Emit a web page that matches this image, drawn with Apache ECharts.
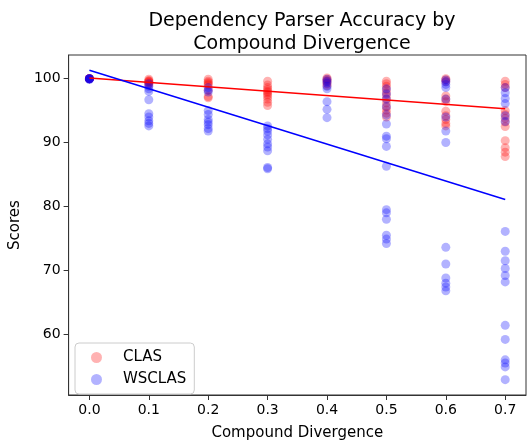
<!DOCTYPE html>
<html>
<head>
<meta charset="utf-8">
<script src="https://cdn.jsdelivr.net/npm/echarts@6/dist/echarts.min.js"></script>
<style>
  * { margin: 0; padding: 0; }
  #chart { width: 531px; height: 446px; }
</style>
</head>
<body>
<div id="chart"></div>
<script>
// compound divergence levels
const divergence = [0.0, 0.1, 0.2, 0.3, 0.4, 0.5, 0.6, 0.7];
const xTicks = [0.0, 0.1, 0.2, 0.3, 0.4, 0.5, 0.6, 0.7];
const yTicks = [60, 70, 80, 90, 100];

// scores per divergence level
const clasScores = [
  [100, 100, 100, 100, 100, 100],
  [99.9, 99.7, 99.6, 99.5, 99.4, 99.2, 99.0],
  [99.9, 99.6, 99.4, 99.2, 99.0, 98.2, 97.2, 97.0],
  [99.6, 99.0, 98.6, 98.3, 98.0, 97.8, 97.5, 97.2, 96.8, 96.3, 95.8],
  [100.1, 99.9, 99.7, 99.5, 99.2, 98.9],
  [99.6, 99.2, 98.8, 98.3, 97.8, 97.3, 96.8, 96.2, 95.6, 95.1, 94.6, 94.0],
  [100.0, 99.8, 99.5, 97.3, 96.8, 96.4, 94.9, 94.2, 93.6, 93.0, 92.6],
  [99.6, 99.1, 98.6, 95.0, 94.4, 93.8, 93.2, 92.5, 90.3, 89.2, 88.5, 87.8]
];
const wsclasScores = [
  [100, 100, 100, 100, 99.9, 99.9],
  [99.2, 98.8, 98.4, 98.0, 96.7, 94.5, 94.0, 93.4, 93.0, 92.6],
  [98.6, 98.2, 97.9, 95.0, 94.4, 93.6, 93.2, 92.8, 92.2, 91.8],
  [92.6, 92.2, 91.8, 91.2, 90.5, 89.8, 89.3, 88.7, 86.1, 85.9],
  [99.9, 99.6, 99.3, 98.8, 98.4, 96.4, 95.2, 93.9],
  [98.4, 97.6, 96.8, 95.6, 94.3, 92.9, 91.0, 90.6, 89.4, 86.3, 79.5, 79.0, 78.0, 75.5, 74.9, 74.2],
  [99.8, 99.5, 99.1, 98.6, 96.8, 94.0, 91.8, 90.0, 73.6, 71.0, 68.8, 68.0, 67.4, 66.8],
  [98.6, 97.8, 96.9, 96.1, 94.2, 93.3, 76.1, 73.0, 71.5, 70.3, 69.2, 68.2, 61.4, 59.2, 56.0, 55.5, 54.9, 52.9]
];

// fitted trend lines (ends)
const fitX = [0.0, 0.7];
const clasFit = [100.1, 95.3];
const wsclasFit = [101.3, 81.1];

const toPoints = (scores) =>
  scores.flatMap((col, i) => col.map((v) => [divergence[i], v]));
const toLine = (ys) => fitX.map((x, i) => [x, ys[i]]);

const font = "DejaVu Sans";
const chart = echarts.init(document.getElementById("chart"));
chart.setOption({
  animation: false,
  textStyle: { fontFamily: font },
  title: {
    text: "Dependency Parser Accuracy by\nCompound Divergence",
    left: 297,
    top: 5,
    textAlign: "center",
    textStyle: { fontFamily: font, fontSize: 19, fontWeight: "normal", color: "#000", lineHeight: 23 }
  },
  grid: {
    left: 67, right: 5, top: 55, bottom: 45,
    show: true, borderColor: "#333", borderWidth: 1
  },
  legend: {
    data: ["CLAS", "WSCLAS"],
    orient: "vertical",
    left: 75, top: 343,
    padding: [7, 8, 7, 16],
    itemGap: 7,
    itemWidth: 11, itemHeight: 11,
    borderColor: "#ccc", borderWidth: 1, borderRadius: 4,
    textStyle: { fontFamily: font, fontSize: 15, color: "#000", padding: [0, 0, 0, 16] }
  },
  xAxis: {
    type: "value",
    min: -0.035, max: 0.735,
    name: "Compound Divergence",
    nameLocation: "middle",
    nameGap: 31,
    nameTextStyle: { fontFamily: font, fontSize: 15, color: "#000" },
    axisLine: { onZero: false, lineStyle: { color: "#333" } },
    axisTick: { show: true, length: 5, customValues: xTicks, lineStyle: { color: "#333" } },
    axisLabel: { customValues: xTicks, formatter: (v) => v.toFixed(1), fontSize: 14, color: "#000", margin: 8 },
    splitLine: { show: false }
  },
  yAxis: {
    type: "value",
    min: 50.5, max: 103.7,
    name: "Scores",
    nameLocation: "middle",
    nameGap: 44,
    nameTextStyle: { fontFamily: font, fontSize: 15, color: "#000" },
    axisLine: { show: true, onZero: false, lineStyle: { color: "#333" } },
    axisTick: { show: true, length: 5, customValues: yTicks, lineStyle: { color: "#333" } },
    axisLabel: { customValues: yTicks, fontSize: 14, color: "#000", margin: 8 },
    splitLine: { show: false }
  },
  series: [
    {
      name: "CLAS",
      type: "scatter",
      symbolSize: 9,
      data: toPoints(clasScores),
      itemStyle: { color: "#ff0000", opacity: 0.3 }
    },
    {
      name: "WSCLAS",
      type: "scatter",
      symbolSize: 9,
      data: toPoints(wsclasScores),
      itemStyle: { color: "#0000ff", opacity: 0.3 }
    },
    {
      name: "CLAS fit",
      type: "line",
      data: toLine(clasFit),
      showSymbol: false,
      lineStyle: { color: "#ff0000", width: 1.5 }
    },
    {
      name: "WSCLAS fit",
      type: "line",
      data: toLine(wsclasFit),
      showSymbol: false,
      lineStyle: { color: "#0000ff", width: 1.5 }
    }
  ]
});
</script>
</body>
</html>
